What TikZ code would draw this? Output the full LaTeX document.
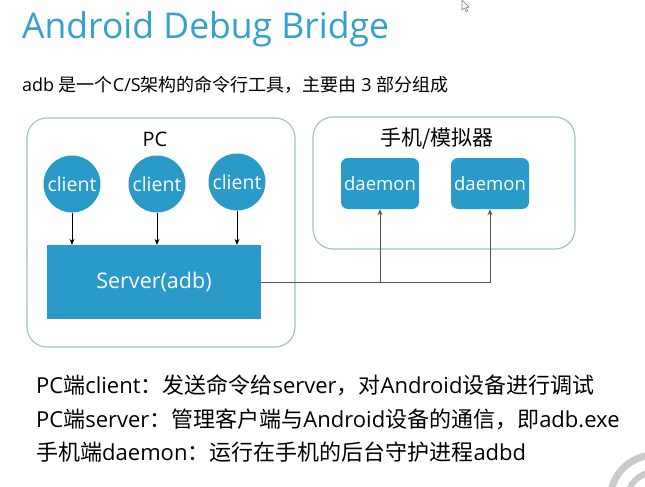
\documentclass[tikz,border=0pt]{standalone}
\usepackage{fontspec}
\setmainfont{Open Sans}
\newfontfamily\cjk{Noto Sans CJK SC}
\newcommand\zhtxt[1]{{\cjk #1}}
\usetikzlibrary{arrows.meta}
\definecolor{adbblue}{HTML}{2A9BC8}
\definecolor{titleblue}{HTML}{33A1CB}
\definecolor{framecol}{HTML}{9EBFCB}
\definecolor{linkcol}{HTML}{555555}
\definecolor{ringcol}{HTML}{CACACA}
\begin{document}
\begin{tikzpicture}[x=1pt,y=-1pt,
  grp/.style={draw=framecol, line width=1.1pt, rounded corners=20pt, inner sep=0},
  cli/.style={circle, fill=adbblue, minimum size=57pt, inner sep=0, text=white, font=\fontsize{19.5}{19.5}\selectfont},
  srvbox/.style={rectangle, fill=adbblue, minimum width=214pt, minimum height=74pt, inner sep=0, text=white, font=\fontsize{21.5}{21.5}\selectfont},
  dmn/.style={rectangle, rounded corners=7pt, fill=adbblue, minimum width=78pt, minimum height=51pt, inner sep=0, text=white, font=\fontsize{18.5}{18.5}\selectfont},
  lbl/.style={inner sep=0, font=\fontsize{20}{20}\selectfont},
  txt/.style={inner sep=0, anchor=base west},
  arr/.style={-{Stealth[length=6pt,width=5pt]}, line width=0.7pt, black},
  link/.style={-{Stealth[length=6pt,width=5pt]}, line width=1pt, linkcol}
]
\useasboundingbox (0,0) rectangle (645,487);
\fill[white] (0,0) rectangle (645,487);

% title and intro
\node[txt, text=titleblue, font=\fontsize{35.5}{35.5}\selectfont] (title) at (22,39) {Android Debug Bridge};
\node[txt, font=\fontsize{18}{18}\selectfont] (intro) at (22,91) {adb \zhtxt{是一个}C/S\zhtxt{架构的命令行工具，主要由} 3 \zhtxt{部分组成}};

% group frames
\node[grp, minimum width=268pt, minimum height=229pt] (pc) at (161,232.5) {};
\node[grp, minimum width=262pt, minimum height=132pt] (phone) at (444,183) {};
\node[lbl] (pclbl) at (155,139) {PC};
\node[lbl, font=\cjk\fontsize{21}{21}\selectfont] (phlbl) at (437,139) {手机/模拟器};

% clients
\node[cli] (c1) at (72,184) {client};
\node[cli] (c2) at (157,184) {client};
\node[cli] (c3) at (237,182) {client};

% server
\node[srvbox] (srv) at (154,282) {Server(adb)};

% daemons
\node[dmn] (d1) at (380,183.5) {daemon};
\node[dmn] (d2) at (490,183.5) {daemon};

% arrows clients -> server
\draw[arr] (c1.south) -- (c1.south |- srv.north);
\draw[arr] (c2.south) -- (c2.south |- srv.north);
\draw[arr] (c3.south) -- (c3.south |- srv.north);

% server -> daemons
\draw[link] (srv.east) -| (d2.south);
\draw[link] (d1.south |- srv.east) -- (d1.south);

% description lines
\node[txt, font=\fontsize{22}{22}\selectfont] (l1) at (36,393) {PC\zhtxt{端}client\zhtxt{：发送命令给}server\zhtxt{，对}Android\zhtxt{设备进行调试}};
\node[txt, font=\fontsize{22}{22}\selectfont] (l2) at (36,427) {PC\zhtxt{端}server\zhtxt{：管理客户端与}Android\zhtxt{设备的通信，即}adb.exe};
\node[txt, font=\fontsize{22}{22}\selectfont] (l3) at (36,460) {\zhtxt{手机端}daemon\zhtxt{：运行在手机的后台守护进程}adbd};

% decorative rings (bottom right)
\begin{scope}
\clip (0,0) rectangle (645,487);
\draw[ringcol, line width=7pt] (655,500) circle[radius=45pt];
\draw[ringcol, line width=6pt] (655,500) circle[radius=28pt];
\end{scope}

% mouse pointer
\draw[gray, line width=0.6pt, fill=white, line join=round] (462,0) -- (462,10) -- (464.5,8) -- (466,11.5) -- (467.6,10.8) -- (466.1,7.4) -- (469.2,7.4) -- cycle;
\end{tikzpicture}
\end{document}
